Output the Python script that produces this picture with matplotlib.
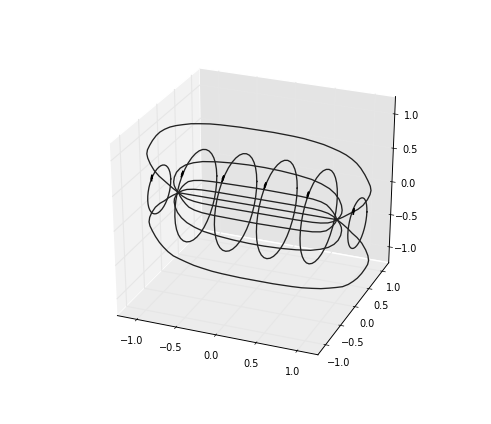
import numpy as np
import matplotlib
matplotlib.use('Agg')
import matplotlib.pyplot as plt
from mpl_toolkits.mplot3d import Axes3D

# field lines in the plane y = 0, one quadrant each, from the pole at x = 1 to x = 0
outer_x = [1.0, 1.07, 1.13, 1.19, 1.25, 1.31, 1.36, 1.39, 1.40, 1.39, 1.36, 1.32, 1.27, 1.22, 1.16, 1.09, 1.01, 0.92, 0.82, 0.71, 0.58, 0.45, 0.21, 0.0]
outer_z = [0.0, 0.05, 0.10, 0.15, 0.20, 0.27, 0.36, 0.44, 0.50, 0.56, 0.63, 0.71, 0.79, 0.85, 0.90, 0.945, 0.98, 1.01, 1.04, 1.06, 1.08, 1.09, 1.10, 1.10]
outer_low_z = [0.0, 0.05, 0.10, 0.16, 0.21, 0.28, 0.37, 0.45, 0.52, 0.58, 0.65, 0.73, 0.81, 0.87, 0.93, 0.98, 1.01, 1.04, 1.07, 1.09, 1.11, 1.12, 1.13, 1.13]
mid_x = [1.0, 1.035, 1.055, 1.06, 1.05, 1.02, 0.97, 0.90, 0.80, 0.68, 0.50, 0.30, 0.10, 0.0]
mid_z = [0.0, 0.05, 0.10, 0.15, 0.22, 0.30, 0.37, 0.43, 0.48, 0.52, 0.55, 0.57, 0.58, 0.58]
near_x = [1.0, 0.98, 0.95, 0.91, 0.87, 0.80, 0.70, 0.55, 0.30, 0.0]
near_z = [0.0, 0.05, 0.10, 0.15, 0.19, 0.22, 0.24, 0.25, 0.255, 0.26]
inner_x = [1.0, 0.95, 0.89, 0.80, 0.70, 0.50, 0.25, 0.0]
inner_z = [0.0, 0.04, 0.07, 0.09, 0.10, 0.105, 0.105, 0.105]
axis_x = [-1.0, 1.0]

# rings around the x axis
ring_x = [-1.25, -0.77, -0.26, 0.26, 0.78, 1.25]
ring_r = [0.33, 0.62, 0.65, 0.65, 0.62, 0.33]
circle_y = [1.0, 0.985, 0.94, 0.866, 0.766, 0.643, 0.5, 0.342, 0.174, 0.0, -0.174, -0.342, -0.5, -0.643, -0.766, -0.866, -0.94, -0.985,
            -1.0, -0.985, -0.94, -0.866, -0.766, -0.643, -0.5, -0.342, -0.174, 0.0, 0.174, 0.342, 0.5, 0.643, 0.766, 0.866, 0.94, 0.985, 1.0]
circle_z = [0.0, 0.174, 0.342, 0.5, 0.643, 0.766, 0.866, 0.94, 0.985, 1.0, 0.985, 0.94, 0.866, 0.766, 0.643, 0.5, 0.342, 0.174,
            0.0, -0.174, -0.342, -0.5, -0.643, -0.766, -0.866, -0.94, -0.985, -1.0, -0.985, -0.94, -0.866, -0.766, -0.643, -0.5, -0.342, -0.174, 0.0]

# arrow heads on the rings
arrow_y = [-0.21, -0.42, -0.42, -0.42, -0.42, -0.16]
arrow_z = [0.22, 0.47, 0.5, 0.5, 0.47, 0.2]
arrow_v = [0.2, 0.7, 0.7, 0.7, 0.7, 0.2]
arrow_w = [1.0, 0.7, 0.7, 0.7, 0.7, 1.0]

ticks = [-1.0, -0.5, 0.0, 0.5, 1.0]

fig = plt.figure(figsize=(4.91, 4.24), dpi=100)
ax = fig.add_axes([72.2 / 491, 52.5 / 424, 359.1 / 491, 322.3 / 424], projection='3d')
ax.apply_aspect = lambda position=None: None  # keep the stretched box

line = dict(color='#222222', lw=0.95)

# each line is mirrored to the other side of the poles
for qx, qz, lowz in [(outer_x, outer_z, outer_low_z), (mid_x, mid_z, mid_z),
                     (near_x, near_z, near_z), (inner_x, inner_z, inner_z)]:
    qx = np.array(qx)
    qz = np.array(qz)
    lowz = np.array(lowz)
    x = np.concatenate([-qx, qx[::-1]])
    ax.plot(x, np.zeros(len(x)), np.concatenate([qz, qz[::-1]]), **line)
    ax.plot(x, np.zeros(len(x)), -np.concatenate([lowz, lowz[::-1]]), **line)
ax.plot(axis_x, [0, 0], [0, 0], **line)

for x0, r in zip(ring_x, ring_r):
    ax.plot(np.full(len(circle_y), x0), r * np.array(circle_y), r * np.array(circle_z), **line)

ax.quiver(ring_x, arrow_y, arrow_z, np.zeros(6), arrow_v, arrow_w, length=0.09, normalize=True,
          arrow_length_ratio=0.7, color='black', lw=1.2)

ax.view_init(elev=28, azim=-68)
ax.set_box_aspect((1, 1, 1))
ax.set_xlim(-1.25, 1.25, view_margin=0)
ax.set_ylim(-1.25, 1.25, view_margin=0)
ax.set_zlim(-1.25, 1.25, view_margin=0)
ax.set_xticks(ticks)
ax.set_yticks(ticks)
ax.set_zticks(ticks)
ax.tick_params(labelsize=7, pad=0)

ax.xaxis.set_pane_color((0.95, 0.95, 0.95, 1.0))
ax.yaxis.set_pane_color((0.895, 0.895, 0.895, 1.0))
ax.zaxis.set_pane_color((0.925, 0.925, 0.925, 1.0))
for axis in (ax.xaxis, ax.yaxis, ax.zaxis):
    axis.pane.set_edgecolor((1, 1, 1, 0))
    axis._axinfo['grid'].update(color=(0.9, 0.9, 0.9, 1.0), linewidth=0.8)
    axis._axinfo['tick'].update(linewidth={True: 0.5, False: 0.5})
    axis.line.set_linewidth(0.7)

fig.savefig('out.png', dpi=100)
